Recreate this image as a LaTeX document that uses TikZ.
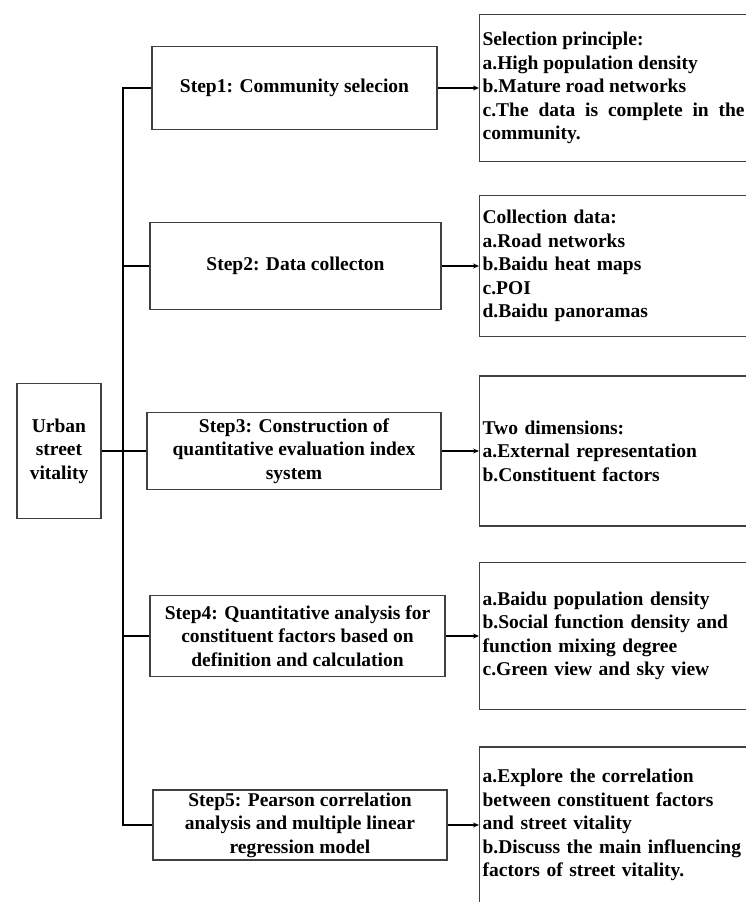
\documentclass[tikz,border=0pt]{standalone}
\usepackage{fontspec}
\setmainfont{Liberation Serif}
\usetikzlibrary{arrows.meta}

\begin{document}
\begin{tikzpicture}[x=1pt,y=-1pt,
  font=\bfseries\fontsize{19.5}{23.5}\selectfont,
  box/.style={draw=black!75,line width=1.3pt,inner sep=0pt},
  stepbox/.style={box,align=center},
  listbox/.style={box,anchor=west,inner xsep=3pt,text width=262pt,align=left},
  link/.style={line width=1.2pt},
  pointer/.style={link,-{Stealth[length=6pt,width=5pt]}}]
  \useasboundingbox (0,0) rectangle (745,902);

  \node[box,align=center,minimum width=84pt,minimum height=135pt] (urban) at (59,451) {Urban\\street\\vitality};

  \node[stepbox,minimum width=285pt,minimum height=83pt] (step1) at (294.5,88) {Step1: Community selecion};
  \node[stepbox,minimum width=291pt,minimum height=87pt] (step2) at (295.5,266) {Step2: Data collecton};
  \node[stepbox,minimum width=294pt,minimum height=77pt] (step3) at (294,451) {Step3: Construction of\\quantitative evaluation index\\system};
  \node[stepbox,minimum width=295pt,minimum height=81pt] (step4) at (297.5,636) {Step4: Quantitative analysis for\\constituent factors based on\\definition and calculation};
  \node[stepbox,minimum width=294pt,minimum height=70pt] (step5) at (300,825) {Step5: Pearson correlation\\analysis and multiple linear\\regression model};

  \node[listbox,align=justify,minimum height=147pt] (list1) at (479,88) {Selection principle:\\a.High population density\\b.Mature road networks\\c.The data is complete in the community.};
  \node[listbox,minimum height=141pt] (list2) at (479,266) {Collection data:\\a.Road networks\\b.Baidu heat maps\\c.POI\\d.Baidu panoramas};
  \node[listbox,minimum height=150pt] (list3) at (479,451) {Two dimensions:\\a.External representation\\b.Constituent factors};
  \node[listbox,minimum height=147pt] (list4) at (479,636) {a.Baidu population density\\b.Social function density and\\function mixing degree\\c.Green view and sky view};
  \node[listbox,minimum height=156pt] (list5) at (479,825) {a.Explore the correlation\\between constituent factors\\and street vitality\\b.Discuss the main influencing\\factors of street vitality.};

  % trunk on the left
  \coordinate (trunk) at (123,451);
  \draw[link] (step1.west) -| (trunk) |- (step5.west);
  \draw[link] (urban.east) -- (step3.west);
  \draw[link] (trunk |- step2.west) -- (step2.west);
  \draw[link] (trunk |- step4.west) -- (step4.west);

  \draw[pointer] (step1.east) -- (list1.west);
  \draw[pointer] (step2.east) -- (list2.west);
  \draw[pointer] (step3.east) -- (list3.west);
  \draw[pointer] (step4.east) -- (list4.west);
  \draw[pointer] (step5.east) -- (list5.west);
\end{tikzpicture}
\end{document}
